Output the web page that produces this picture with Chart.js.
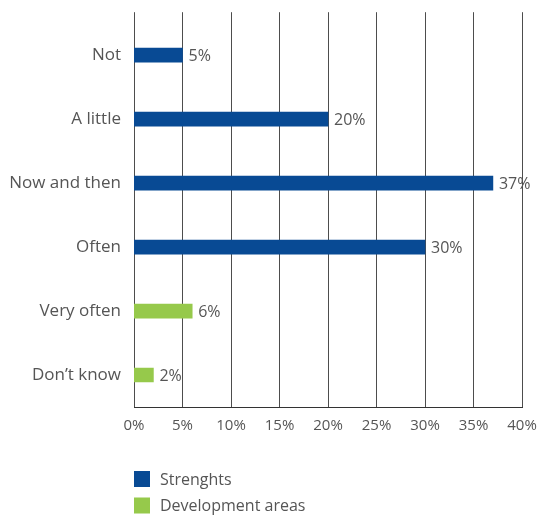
<!DOCTYPE html>
<html>
<head>
<meta charset="utf-8">
<script src="https://cdn.jsdelivr.net/npm/chart.js@4"></script>
<style>
  html, body { margin: 0; padding: 0; background: #fff; }
  #wrap { width: 557px; height: 515px; }
</style>
</head>
<body>
<div id="wrap"><canvas id="myChart" width="557" height="515"></canvas></div>
<script>
// categories and values
var categories = ["Not", "A little", "Now and then", "Often", "Very often", "Don\u2019t know"];
var strengths = [5, 20, 37, 30, null, null];
var development = [null, null, null, null, 6, 2];
var xTicks = [0, 5, 10, 15, 20, 25, 30, 35, 40];

var textColor = "#555555";
var font = "'Open Sans', 'Noto Sans', sans-serif";

// value labels at the end of each bar
var valueLabels = {
    id: "valueLabels",
    afterDatasetsDraw: function (chart) {
        var ctx = chart.ctx;
        ctx.save();
        ctx.font = "16px " + font;
        ctx.fillStyle = textColor;
        ctx.textBaseline = "middle";
        ctx.textAlign = "left";
        chart.data.datasets.forEach(function (ds, i) {
            chart.getDatasetMeta(i).data.forEach(function (bar, j) {
                if (ds.data[j] == null) return;
                ctx.fillText(ds.data[j] + "%", bar.x + 6, bar.y + 1);
            });
        });
        ctx.restore();
    }
};

// vertical grid lines, drawn a bit above the first category band
var gridLines = {
    id: "gridLines",
    beforeDatasetsDraw: function (chart) {
        var ctx = chart.ctx, xs = chart.scales.x, area = chart.chartArea;
        ctx.save();
        ctx.strokeStyle = "#4d4d4d";
        ctx.lineWidth = 1;
        xs.ticks.forEach(function (t) {
            var px = Math.round(xs.getPixelForValue(t.value) - 0.5) + 0.5;
            ctx.beginPath();
            ctx.moveTo(px, area.top - 11);
            ctx.lineTo(px, area.bottom);
            ctx.stroke();
        });
        ctx.restore();
    }
};

// legend stacked in a column under the axis
var columnLegend = {
    id: "columnLegend",
    afterDraw: function (chart) {
        var ctx = chart.ctx;
        ctx.save();
        ctx.font = "16px " + font;
        ctx.textBaseline = "middle";
        chart.data.datasets.forEach(function (ds, i) {
            var y = 471 + i * 26.5;
            ctx.fillStyle = ds.backgroundColor;
            ctx.fillRect(134, y, 16, 16);
            ctx.fillStyle = textColor;
            ctx.fillText(ds.label, 160, y + 9);
        });
        ctx.restore();
    }
};

var ctx = document.getElementById("myChart").getContext("2d");
var mychart = new Chart(ctx, {
    type: "bar",
    data: {
        labels: categories,
        datasets: [
            { label: "Strenghts", data: strengths, backgroundColor: "#084a94" },
            { label: "Development areas", data: development, backgroundColor: "#96c94b" }
        ]
    },
    options: {
        indexAxis: "y",
        responsive: false,
        animation: false,
        layout: { padding: { top: 21, right: 35, left: 0, bottom: 0 } },
        datasets: { bar: { grouped: false, barThickness: 14 } },
        plugins: { legend: { display: false }, tooltip: { enabled: false } },
        scales: {
            x: {
                min: 0,
                max: 40,
                afterBuildTicks: function (s) {
                    s.ticks = xTicks.map(function (v) { return { value: v }; });
                },
                afterFit: function (s) { s.height = 108; },
                grid: { display: false, drawTicks: false },
                border: { color: "#333", width: 1 },
                ticks: {
                    padding: 10,
                    color: textColor,
                    font: { family: font, size: 15 },
                    callback: function (v) { return v + "%"; }
                }
            },
            y: {
                afterFit: function (s) { s.width = 134; },
                grid: { display: false, drawTicks: false },
                border: { color: "#333", width: 1 },
                ticks: {
                    padding: 13,
                    color: textColor,
                    font: { family: font, size: 17 }
                }
            }
        }
    },
    plugins: [gridLines, valueLabels, columnLegend]
});
</script>
</body>
</html>
